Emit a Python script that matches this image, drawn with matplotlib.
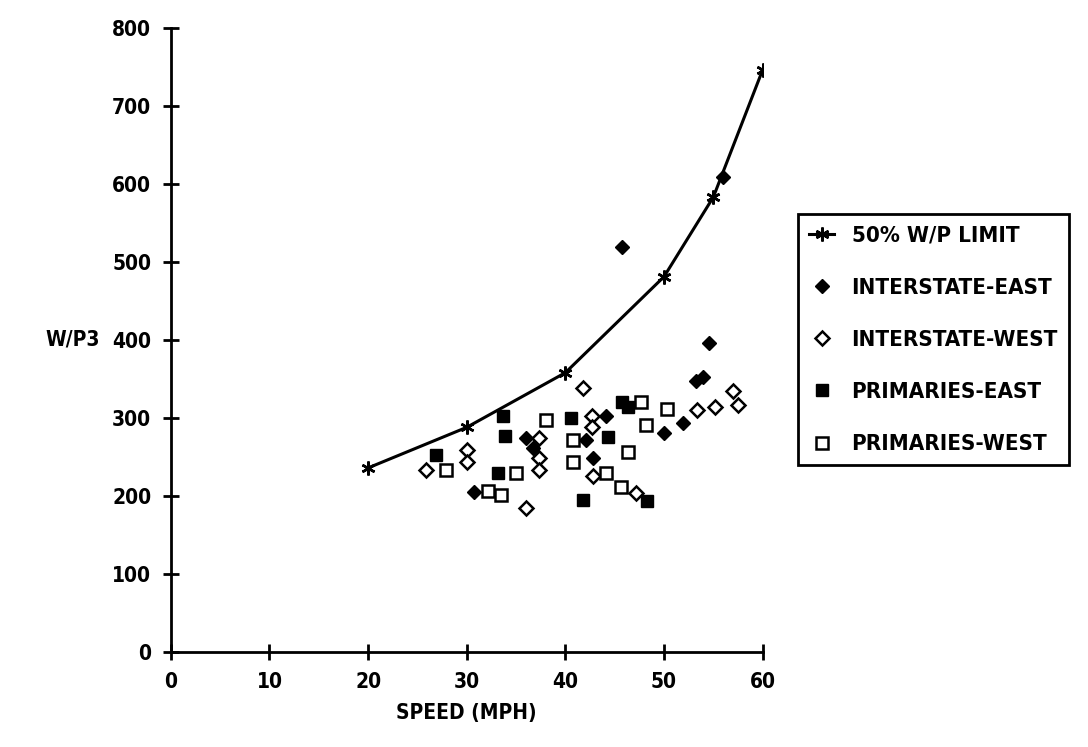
import matplotlib
matplotlib.use("Agg")
import matplotlib.pyplot as plt

plt.rcParams['font.family'] = ['DejaVu Sans']
plt.rcParams['font.stretch'] = 'condensed'
plt.rcParams['font.weight'] = 'bold'
plt.rcParams['axes.labelweight'] = 'bold'

# 50% W/P limit curve
limit_speed = [20, 30, 40, 50, 55, 60]
limit_wp = [236, 288, 358, 481, 583, 746]

# interstate, east side
ie_speed = [30.7, 36.0, 36.7, 42.1, 42.8, 44.1, 45.7, 50.0, 51.9, 53.2, 53.9, 54.6, 56.0]
ie_wp = [205, 274, 261, 272, 249, 302, 519, 281, 293, 347, 353, 396, 609]

# interstate, west side
iw_speed = [25.9, 30.0, 30.0, 36.0, 37.3, 37.3, 37.3, 41.8, 42.7, 42.7, 42.8, 47.2,
            53.3, 55.2, 57.0, 57.5]
iw_wp = [233, 259, 244, 185, 274, 249, 233, 338, 302, 289, 225, 204,
         310, 314, 334, 317]

# primaries, east side
pe_speed = [26.9, 33.7, 33.9, 33.2, 40.6, 41.8, 45.7, 46.3, 44.3, 48.3]
pe_wp = [252, 302, 277, 229, 300, 195, 321, 314, 276, 193]

# primaries, west side
pw_speed = [27.9, 35.0, 32.2, 33.5, 38.0, 40.8, 40.8, 50.3, 48.2, 47.7, 46.3, 44.1, 45.6]
pw_wp = [233, 229, 206, 201, 297, 272, 244, 311, 291, 321, 257, 229, 212]

x_ticks = [0, 10, 20, 30, 40, 50, 60]
y_ticks = [0, 100, 200, 300, 400, 500, 600, 700, 800]

fig = plt.figure(figsize=(10.88, 7.47), dpi=100)
ax = fig.add_axes([0.157, 0.127, 0.544, 0.836])

ax.plot(limit_speed, limit_wp, color='black', lw=2.2, marker=(6, 2, 0),
        ms=10, mew=1.8, label='50% W/P LIMIT', zorder=3)
ax.plot(ie_speed, ie_wp, ls='none', marker='D', ms=7, mfc='black', mec='black',
        label='INTERSTATE-EAST', zorder=4)
ax.plot(iw_speed, iw_wp, ls='none', marker='D', ms=7, mfc='white', mec='black',
        mew=1.8, label='INTERSTATE-WEST', zorder=4)
ax.plot(pe_speed, pe_wp, ls='none', marker='s', ms=9, mfc='black', mec='black',
        label='PRIMARIES-EAST', zorder=4)
ax.plot(pw_speed, pw_wp, ls='none', marker='s', ms=9, mfc='white', mec='black',
        mew=1.8, label='PRIMARIES-WEST', zorder=4)

ax.set_xlim(0, 60)
ax.set_ylim(0, 800)
ax.set_xticks(x_ticks)
ax.set_yticks(y_ticks)
ax.spines['top'].set_visible(False)
ax.spines['right'].set_visible(False)
for s in ('left', 'bottom'):
    ax.spines[s].set_linewidth(2)
ax.tick_params(direction='inout', length=12, width=2, labelsize=15, pad=8)
ax.margins(0)

ax.set_xlabel('SPEED (MPH)', fontsize=15, labelpad=8)
ax.set_ylabel('W/P3', fontsize=15, rotation=0, ha='right', va='center')
ax.yaxis.set_label_coords(-0.12, 0.5)

leg = ax.legend(loc='center left', bbox_to_anchor=(1.06, 0.5), fontsize=16,
                frameon=True, fancybox=False, edgecolor='black', framealpha=1,
                labelspacing=1.45, handlelength=1.1, handletextpad=0.8,
                borderpad=0.5, borderaxespad=0)
leg.get_frame().set_linewidth(2)

fig.savefig('out.png', dpi=100)
